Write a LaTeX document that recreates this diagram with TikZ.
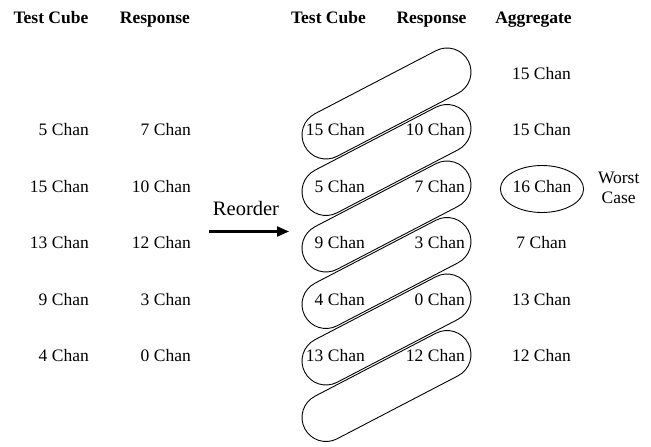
\documentclass[tikz,border=0pt]{standalone}
\usepackage{fontspec}
\setmainfont{Liberation Serif}
\usetikzlibrary{shapes.geometric,shapes.misc,arrows.meta}
\begin{document}
\begin{tikzpicture}[x=1pt,y=-1pt,
  hdr/.style={font=\fontsize{17.5}{20}\selectfont\bfseries, inner sep=0pt, text height=0.662em, text depth=0pt},
  txt/.style={font=\fontsize{17.5}{20}\selectfont, inner sep=0pt, text height=0.662em, text depth=0pt},
  pillbox/.style={draw, line width=0.9pt, rounded rectangle, inner sep=0pt, minimum height=48pt}]
\useasboundingbox (0,0) rectangle (651,447);
% headers
\node[hdr] (h1) at (51,19.7) {Test Cube};
\node[hdr] (h2) at (155,19.7) {Response};
\node[hdr] (h3) at (328.5,19.7) {Test Cube};
\node[hdr] (h4) at (431.5,19.7) {Response};
\node[hdr] (h5) at (533.5,19.7) {Aggregate};
% left columns
\foreach \n/\y/\a/\b in {1/132.5/5/7, 2/189/15/10, 3/245.5/13/12, 4/302/9/3, 5/358.5/4/0}{
  \node[txt, anchor=east] (lc\n) at (89,\y) {\a{} Chan};
  \node[txt, anchor=east] (lr\n) at (191,\y) {\b{} Chan};
}
% reorder arrow
\node[font=\fontsize{20.5}{22}\selectfont, inner sep=0pt, text height=0.662em, text depth=0pt] (reo) at (246,212.5) {Reorder};
\coordinate (ra) at (209,231.5);
\coordinate (rb) at (289,231.5);
\draw[line width=2.2pt, -{Triangle[length=12pt,width=10pt]}] (ra) -- (rb);
% pills: left cap centre (326, row+2.5), right cap centre (447, row-4)
\foreach \n/\yl/\yr in {1/135/72, 2/191.5/128.5, 3/248/185, 4/304.5/241.5, 5/361/298, 6/417.5/354.5}{
  \pgfmathsetmacro{\ang}{atan((\yl-\yr)/121)}
  \pgfmathsetmacro{\len}{veclen(121,\yl-\yr)+48}
  \node[pillbox, minimum width=\len pt, rotate=\ang] (p\n) at (386.5,{(\yl+\yr)/2}) {};
}
% pill texts
\foreach \n/\y/\a/\b in {1/132.5/15/10, 2/189/5/7, 3/245.5/9/3, 4/302/4/0, 5/358.5/13/12}{
  \node[txt, anchor=east] (pc\n) at (365,\y) {\a{} Chan};
  \node[txt, anchor=east] (pr\n) at (465,\y) {\b{} Chan};
}
% aggregate
\node[txt] (g1) at (541.5,76) {15 Chan};
\node[txt] (g2) at (541.5,132.5) {15 Chan};
\node[txt, draw, ellipse, line width=0.9pt, minimum width=83pt, minimum height=47pt] (g3) at (542,189) {16 Chan};
\node[txt] (g4) at (541.5,245.5) {7 Chan};
\node[txt] (g5) at (541.5,302) {13 Chan};
\node[txt] (g6) at (541.5,358.5) {12 Chan};
\node[txt, anchor=center] (wc1) at (618.7,180) {Worst};
\node[txt, anchor=center] (wc2) at (618.7,200) {Case};
\end{tikzpicture}
\end{document}
